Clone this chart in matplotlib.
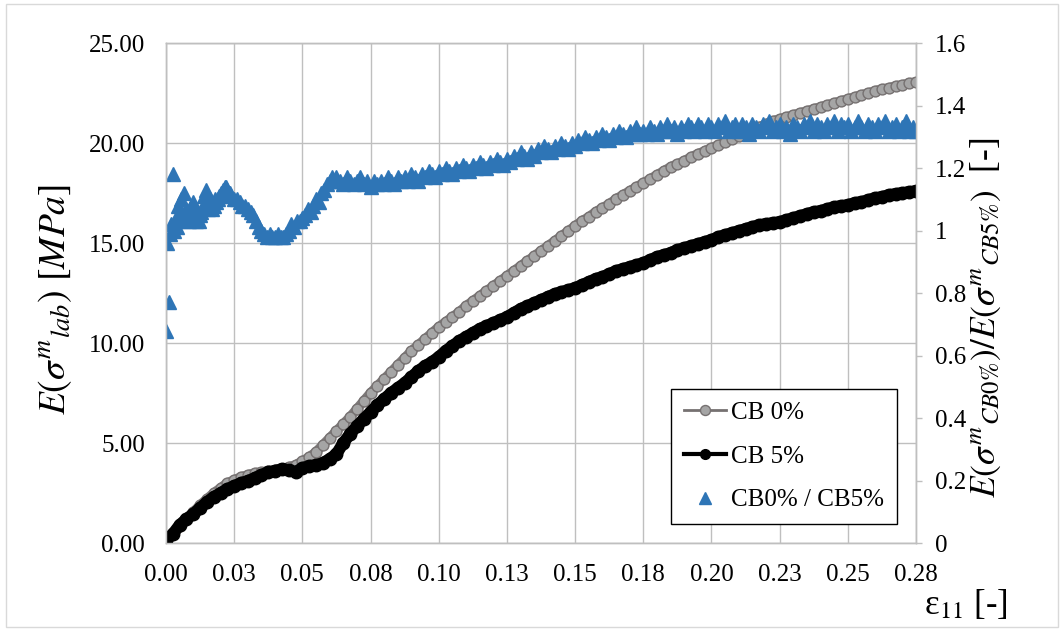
import matplotlib
matplotlib.use("Agg")
import matplotlib.pyplot as plt
from matplotlib.lines import Line2D
from matplotlib.patches import Rectangle

plt.rcParams['font.family'] = ['Liberation Serif', 'DejaVu Serif']
plt.rcParams['mathtext.fontset'] = 'stix'

# Strain steps shared by both modulus curves
strain = [i * 0.0025 for i in range(111)]

cb0 = [0.15, 0.5, 0.85, 1.2, 1.55, 1.9, 2.2, 2.5, 2.75, 3.0,
       3.15, 3.3, 3.4, 3.5, 3.55, 3.6, 3.65, 3.7, 3.8, 3.9,
       4.1, 4.3, 4.55, 4.9, 5.25, 5.6, 5.95, 6.3, 6.7, 7.1,
       7.5, 7.85, 8.2, 8.55, 8.9, 9.25, 9.6, 9.9, 10.2, 10.5,
       10.8, 11.05, 11.3, 11.55, 11.85, 12.1, 12.35, 12.6, 12.85, 13.1,
       13.35, 13.6, 13.85, 14.1, 14.35, 14.6, 14.85, 15.1, 15.35, 15.6,
       15.85, 16.1, 16.3, 16.55, 16.75, 16.95, 17.2, 17.4, 17.6, 17.8,
       18.0, 18.2, 18.4, 18.6, 18.8, 18.95, 19.1, 19.3, 19.45, 19.6,
       19.75, 19.9, 20.05, 20.2, 20.35, 20.5, 20.65, 20.8, 20.95, 21.1,
       21.2, 21.3, 21.4, 21.5, 21.6, 21.7, 21.8, 21.9, 22.0, 22.1,
       22.2, 22.3, 22.4, 22.5, 22.6, 22.7, 22.75, 22.85, 22.9, 23.0,
       23.05]

cb5 = [0.15, 0.45, 0.9, 1.2, 1.45, 1.75, 2.05, 2.3, 2.5, 2.7,
       2.85, 3.0, 3.1, 3.25, 3.4, 3.55, 3.6, 3.7, 3.65, 3.55,
       3.75, 3.85, 3.9, 4.0, 4.2, 4.45, 5.0, 5.45, 5.85, 6.2,
       6.55, 6.9, 7.2, 7.5, 7.75, 8.0, 8.3, 8.6, 8.85, 9.05,
       9.3, 9.6, 9.85, 10.1, 10.3, 10.5, 10.7, 10.85, 11.0, 11.15,
       11.3, 11.5, 11.7, 11.85, 12.0, 12.15, 12.3, 12.45, 12.55, 12.65,
       12.75, 12.9, 13.05, 13.2, 13.3, 13.45, 13.6, 13.7, 13.8, 13.9,
       14.0, 14.15, 14.3, 14.4, 14.5, 14.65, 14.75, 14.85, 14.95, 15.05,
       15.15, 15.3, 15.4, 15.5, 15.6, 15.7, 15.8, 15.9, 15.95, 16.0,
       16.05, 16.15, 16.25, 16.35, 16.45, 16.55, 16.6, 16.7, 16.8, 16.85,
       16.9, 17.0, 17.05, 17.15, 17.25, 17.3, 17.4, 17.45, 17.5, 17.55,
       17.6]

# Ratio CB0% / CB5%: three sampling stretches
ratio_strain = ([i * 0.0005 for i in range(48)]
                + [0.024 + i * 0.001 for i in range(39)]
                + [0.0625 + i * 0.00125 for i in range(171)])

ratio = [
    # 0.0000 - 0.0235
    0.68, 0.96, 0.77, 0.99, 1.02, 1.18, 1.00, 1.04, 1.01, 1.08,
    1.05, 1.10, 1.03, 1.12, 1.06, 1.07, 1.04, 1.03, 1.08, 1.05,
    1.09, 1.04, 1.03, 1.06, 1.03, 1.05, 1.06, 1.08, 1.11, 1.13,
    1.09, 1.07, 1.10, 1.08, 1.07, 1.08, 1.10, 1.09, 1.10, 1.11,
    1.12, 1.12, 1.13, 1.14, 1.14, 1.13, 1.12, 1.12,
    # 0.024 - 0.062
    1.11, 1.10, 1.10, 1.09, 1.08, 1.08, 1.07, 1.06, 1.05, 1.03,
    1.01, 1.00, 0.99, 0.98, 0.99, 0.98, 0.98, 0.99, 0.98, 0.98,
    0.99, 1.00, 1.02, 1.01, 1.03, 1.03, 1.04, 1.05, 1.07, 1.06,
    1.08, 1.10, 1.09, 1.12, 1.13, 1.15, 1.16, 1.17, 1.16,
    # 0.0625 - 0.275
    1.17, 1.16, 1.15, 1.17, 1.16, 1.15, 1.16, 1.17, 1.15, 1.16,
    1.14, 1.16, 1.15, 1.16, 1.15, 1.17, 1.16, 1.15, 1.17, 1.16,
    1.17, 1.16, 1.18, 1.17, 1.16, 1.18, 1.17, 1.19, 1.18, 1.17,
    1.19, 1.18, 1.20, 1.19, 1.18, 1.20, 1.19, 1.21, 1.20, 1.19,
    1.21, 1.20, 1.22, 1.21, 1.20, 1.22, 1.21, 1.23, 1.22, 1.21,
    1.23, 1.22, 1.24, 1.23, 1.25, 1.24, 1.23, 1.25, 1.24, 1.26,
    1.25, 1.27, 1.26, 1.25, 1.27, 1.26, 1.28, 1.27, 1.26, 1.28,
    1.27, 1.29, 1.28, 1.30, 1.29, 1.28, 1.30, 1.29, 1.31, 1.30,
    1.29, 1.31, 1.30, 1.32, 1.31, 1.30, 1.32, 1.31, 1.33, 1.31,
    1.32, 1.31, 1.33, 1.32, 1.31, 1.33, 1.32, 1.34, 1.32, 1.33,
    1.31, 1.33, 1.32, 1.34, 1.33, 1.32, 1.34, 1.33, 1.32, 1.34,
    1.33, 1.32, 1.34, 1.33, 1.35, 1.32, 1.33, 1.34, 1.32, 1.34,
    1.33, 1.31, 1.34, 1.33, 1.32, 1.34, 1.33, 1.35, 1.32, 1.33,
    1.34, 1.32, 1.33, 1.31, 1.34, 1.33, 1.32, 1.34, 1.33, 1.35,
    1.32, 1.34, 1.33, 1.32, 1.34, 1.33, 1.35, 1.32, 1.34, 1.33,
    1.34, 1.32, 1.33, 1.35, 1.33, 1.32, 1.34, 1.33, 1.32, 1.34,
    1.33, 1.35, 1.32, 1.33, 1.34, 1.32, 1.33, 1.35, 1.32, 1.33,
    1.32,
]

x_ticks = [i * 0.025 for i in range(12)]
x_tick_labels = ["0.00", "0.03", "0.05", "0.08", "0.10", "0.13",
                 "0.15", "0.18", "0.20", "0.23", "0.25", "0.28"]
left_ticks = [0, 5, 10, 15, 20, 25]
right_ticks = [0, 0.2, 0.4, 0.6, 0.8, 1.0, 1.2, 1.4, 1.6]

GRID = '#BFBFBF'
GRAY_LINE = '#767171'
GRAY_FILL = '#A5A5A5'
BLUE = '#2E75B6'
FS = 18

fig = plt.figure(figsize=(10.64, 6.30), dpi=100)
fig.patches.append(Rectangle((0.006, 0.005), 0.988, 0.988, transform=fig.transFigure,
                             fill=False, edgecolor='#D9D9D9', linewidth=1.0))

ax = fig.add_axes([166 / 1064, 1 - 543 / 630, 750 / 1064, 500 / 630])
ax2 = ax.twinx()

# Densely logged curves: a wide stroke under the markers gives the solid band
ax.plot(strain, cb0, color='#7E7A7A', lw=7, solid_capstyle='round',
        solid_joinstyle='round', zorder=3)
ax.plot(strain, cb0, linestyle='none', marker='o', ms=7.8,
        mfc=GRAY_FILL, mec=GRAY_LINE, mew=1.0, zorder=3)
ax.plot(strain, cb5, color='black', lw=8.5, solid_capstyle='round',
        solid_joinstyle='round', zorder=4)
ax.plot(strain, cb5, linestyle='none', marker='o', ms=9,
        mfc='black', mec='black', zorder=4)
ax2.plot(ratio_strain, ratio, linestyle='none', marker='^', ms=10.5,
         color=BLUE, mec=BLUE)

ax.set_xlim(0, 0.275)
ax.set_ylim(0, 25)
ax2.set_ylim(0, 1.6)

ax.set_xticks(x_ticks)
ax.set_xticklabels(x_tick_labels)
ax.set_yticks(left_ticks)
ax.set_yticklabels([f"{v:.2f}" for v in left_ticks])
ax2.set_yticks(right_ticks)
ax2.set_yticklabels([f"{v:g}" for v in right_ticks])

ax.grid(True, color=GRID, lw=1.0)
ax.set_axisbelow(True)

for a in (ax, ax2):
    for s in a.spines.values():
        s.set_color(GRID)
        s.set_linewidth(1.0)

ax.tick_params(axis='x', length=0, pad=15, labelsize=FS)
ax.tick_params(axis='y', length=0, pad=15, labelsize=FS)
ax2.tick_params(axis='y', length=4.5, width=1.0, color=GRID, pad=9,
                labelsize=FS, direction='out')

fig.text(55 / 1064, 1 - 300 / 630, r"$E(\sigma^{m}{}_{lab})\ [MPa]$",
         rotation=90, ha='center', va='center', fontsize=27)
fig.text(986 / 1064, 1 - 318 / 630,
         r"$E(\sigma^{m}{}_{CB0\%})/E(\sigma^{m}{}_{CB5\%})$  [-]",
         rotation=90, ha='center', va='center', fontsize=25.5)
fig.text(966 / 1064, 1 - 605 / 630, r"ε$_{11}$ [-]",
         ha='center', va='center', fontsize=25)

handles = [
    Line2D([], [], color=GRAY_LINE, lw=2, marker='o', ms=7.2, mfc=GRAY_FILL, mec=GRAY_LINE),
    Line2D([], [], color='black', lw=3, marker='o', ms=7.0, mfc='black', mec='black'),
    Line2D([], [], linestyle='none', marker='^', ms=9, color=BLUE),
]
labels = ['CB 0%', 'CB 5%', 'CB0% / CB5%']
leg = ax2.legend(handles, labels, loc='lower left',
                 bbox_to_anchor=(505 / 750, 19 / 500), borderaxespad=0,
                 fontsize=FS, frameon=True, fancybox=False,
                 edgecolor='black', framealpha=1, handlelength=1.7,
                 handletextpad=0.2, labelspacing=0.85, borderpad=0.5)
leg.get_frame().set_linewidth(1.0)

fig.savefig('out.png', dpi=100)
